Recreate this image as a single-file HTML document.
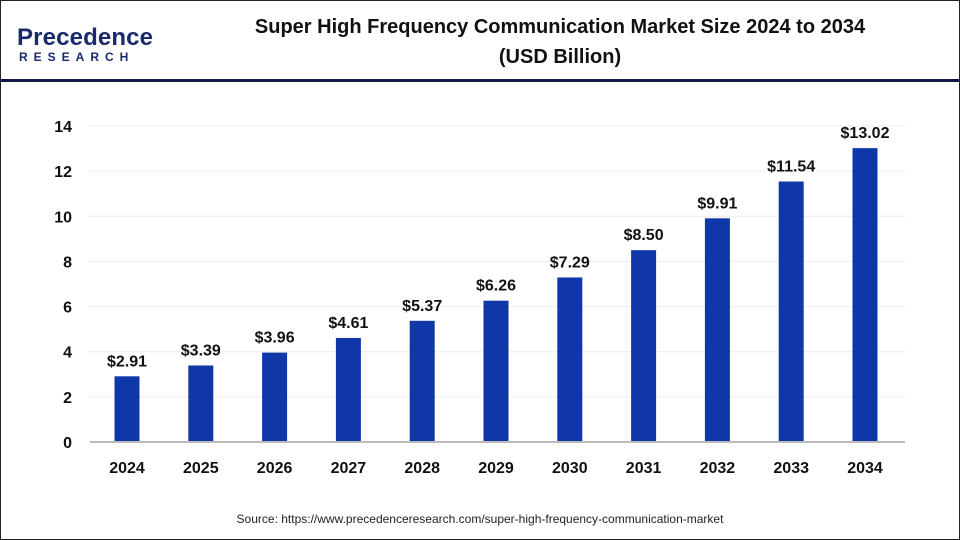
<!DOCTYPE html>
<html><head><meta charset="utf-8"><style>
body{margin:0;width:960px;height:540px;overflow:hidden;background:#fff;font-family:"Liberation Sans",sans-serif}
#frame{position:absolute;left:0;top:0;width:958px;height:538px;border:1px solid #222}
</style></head><body>
<div id="frame"></div>
<svg width="960" height="540" style="position:absolute;left:0;top:0">
<g>
<text x="17" y="45" font-size="24" fill="#1a2a6c" font-weight="bold" textLength="136">Precedence</text>
<text x="19" y="61" font-size="12" fill="#1a2a6c" font-weight="bold" letter-spacing="6">RESEARCH</text>
</g>
<text x="560" y="33" text-anchor="middle" font-size="20" font-weight="bold" fill="#111">Super High Frequency Communication Market Size 2024 to 2034</text>
<text x="560" y="63" text-anchor="middle" font-size="20" font-weight="bold" fill="#111">(USD Billion)</text>
<rect x="1" y="79" width="958" height="3" fill="#131a4a"/>
<g id="grid"></g><g id="bars"></g>
<text x="480" y="523" text-anchor="middle" font-size="12" fill="#222">Source: https://www.precedenceresearch.com/super-high-frequency-communication-market</text>
</svg>
<script>
const categories=["2024","2025","2026","2027","2028","2029","2030","2031","2032","2033","2034"];
const values=[2.91,3.39,3.96,4.61,5.37,6.26,7.29,8.50,9.91,11.54,13.02];
const valueLabels=["$2.91","$3.39","$3.96","$4.61","$5.37","$6.26","$7.29","$8.50","$9.91","$11.54","$13.02"];
const yTicks=[0,2,4,6,8,10,12,14];
const ns="http://www.w3.org/2000/svg";
const y=v=>442-v*(316/14);
const x=i=>127+i*73.8;
const g=document.getElementById('grid'),b=document.getElementById('bars');
function mk(p,t,a){const e=document.createElementNS(ns,t);for(const k in a)e.setAttribute(k,a[k]);p.appendChild(e);return e;}
yTicks.forEach(t=>{
 const l=mk(g,'line',{x1:88,x2:905,y1:y(t),y2:y(t),stroke:'#ececec','stroke-width':1});
 
 
 const tx=mk(g,'text',{x:72,y:y(t)+6,'text-anchor':'end','font-size':16,'font-weight':'bold',fill:'#111'});
 tx.textContent=t;
 
 
});
categories.forEach((c,i)=>{
 const r=mk(b,'rect',{x:x(i)-12.5,y:y(values[i]),width:25,height:442-y(values[i]),fill:'#0f37a8'});
 
 
 const vl=mk(b,'text',{x:x(i),y:y(values[i])-10,'text-anchor':'middle','font-size':16,'font-weight':'bold',fill:'#111'});
 vl.textContent=valueLabels[i];
 
 
 const xl=mk(b,'text',{x:x(i),y:473,'text-anchor':'middle','font-size':16,'font-weight':'bold',fill:'#111'});
 xl.textContent=c;
 
 
});
const ax=mk(b,'line',{x1:90,x2:905,y1:442,y2:442,stroke:'#bbb','stroke-width':2});


</script>
</body></html>
